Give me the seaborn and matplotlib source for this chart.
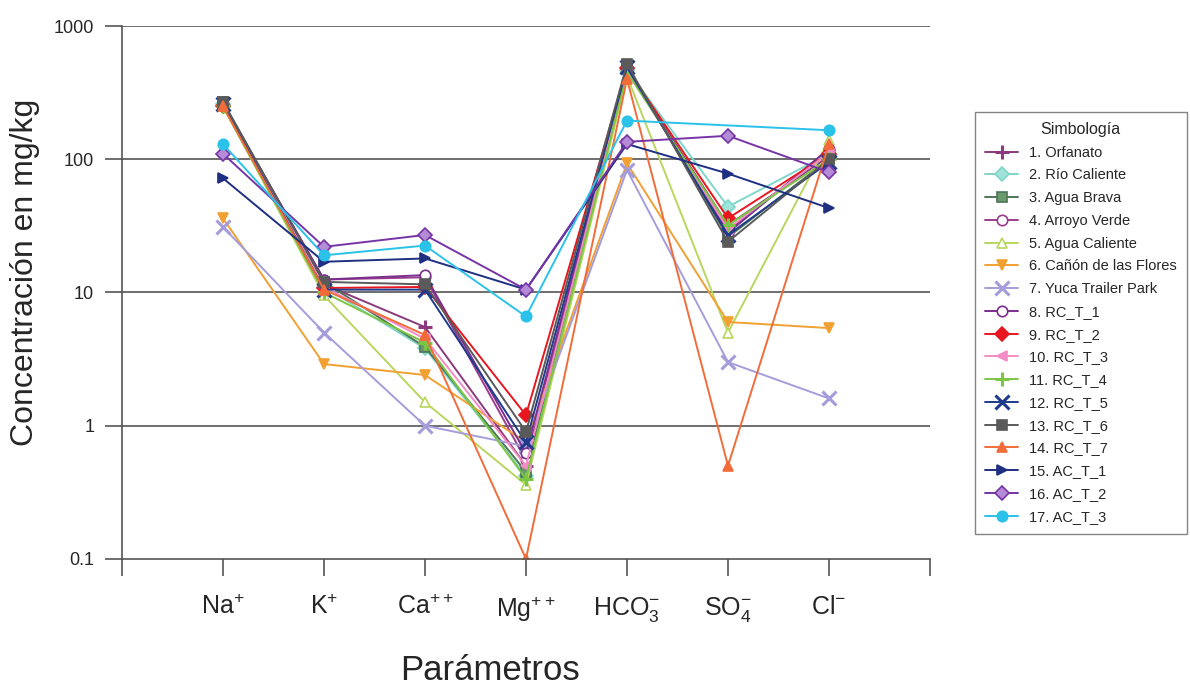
import numpy as np
import pandas as pd
import matplotlib
matplotlib.use("Agg")
import matplotlib.pyplot as plt
from matplotlib import font_manager
import seaborn as sns

# Sampling sites (legend order)
sites = [
    "1. Orfanato", "2. Río Caliente", "3. Agua Brava", "4. Arroyo Verde",
    "5. Agua Caliente", "6. Cañón de las Flores", "7. Yuca Trailer Park",
    "8. RC_T_1", "9. RC_T_2", "10. RC_T_3", "11. RC_T_4", "12. RC_T_5",
    "13. RC_T_6", "14. RC_T_7", "15. AC_T_1", "16. AC_T_2", "17. AC_T_3",
]

# Major ions along the x axis
params = [r"Na$^{+}$", r"K$^{+}$", r"Ca$^{++}$", r"Mg$^{++}$",
          r"HCO$_3^{-}$", r"SO$_4^{-}$", r"Cl$^{-}$"]

# Concentrations (mg/kg), one value per site in the order above
na   = [255, 260, 270, 255, 250, 36, 31, 260, 250, 255, 250, 260, 270, 250, 72, 110, 130]
k    = [11.5, 11, 12, 12.5, 9.5, 2.9, 5, 12.5, 10.8, 11, 10, 10.5, 12, 10.5, 17, 22, 19]
ca   = [5.5, 3.8, 3.9, 13, 1.5, 2.4, 1.0, 13.5, 11, 4.5, 4.2, 10.5, 11.5, 4.8, 18, 27, 22.5]
mg   = [0.5, 0.42, 0.45, 0.55, 0.36, 0.75, 0.7, 0.62, 1.2, 0.5, 0.4, 0.75, 0.9, 0.1, 10.5, 10.5, 6.6]
hco3 = [480, 470, 500, 470, 420, 93, 83, 490, 480, 460, 450, 490, 520, 400, 130, 135, 195]
so4  = [32, 44, 26, 29, 5, 6, 3, 28, 36, 30, 32, 27, 24, 0.5, 78, 150, np.nan]
cl   = [105, 110, 100, 115, 140, 5.4, 1.6, 120, 110, 112, 100, 95, 100, 130, 43, 80, 165]

# Line colour, marker, marker face colour per site
colors = ["#8a3a7c", "#7fd6ca", "#4d7556", "#9b3d8c", "#b9d65e", "#f2a032",
          "#a59ddb", "#7a2f8e", "#e8161e", "#f28cc4", "#7cc646", "#1f3a8c",
          "#5a5a5a", "#f26c3a", "#1f2f82", "#7634a6", "#2bc2ea"]
markers = ["+", "D", "s", "o", "^", "v", "x", "o", "D", "<", "+", "x",
           "s", "^", ">", "D", "o"]
faces = ["#c0508f", "#9fe3da", "#6a9a6e", "white", "white", "#f2a032",
         "#a59ddb", "white", "#e8161e", "#f28cc4", "#7cc646", "#1f3a8c",
         "#5a5a5a", "#f26c3a", "#1f2f82", "#b58ad6", "#2bc2ea"]

df = pd.DataFrame({"site": sites, 0: na, 1: k, 2: ca, 3: mg, 4: hco3, 5: so4, 6: cl})
long = df.melt(id_vars="site", var_name="pos", value_name="conc")
long["pos"] = long["pos"].astype(int)

sns.set_theme(style="white")
names = {f.name for f in font_manager.fontManager.ttflist}
fam = "Liberation Sans Narrow" if "Liberation Sans Narrow" in names else "Liberation Sans"
plt.rcParams["font.family"] = [fam, "DejaVu Sans"]
plt.rcParams["mathtext.fontset"] = "custom"
plt.rcParams["mathtext.rm"] = fam
plt.rcParams["mathtext.it"] = fam

fig = plt.figure(figsize=(11.9, 6.9), dpi=100)
ax = fig.add_axes([0.1025, 0.19, 0.679, 0.7723])

for i, name in enumerate(sites):
    sub = long[(long["site"] == name)].dropna(subset=["conc"]).sort_values("pos")
    mk = markers[i]
    thin = mk in ("+", "x")
    sns.lineplot(data=sub, x="pos", y="conc", ax=ax, color=colors[i],
                 marker=mk, markersize=10 if thin else 7.5,
                 markerfacecolor=faces[i], markeredgecolor=colors[i],
                 markeredgewidth=2.2 if thin else 1.2,
                 linewidth=1.4, label=name, sort=False, estimator=None)

ax.set_yscale("log")
ax.set_ylim(0.1, 1000)
ax.set_xlim(-1, 7)

# Horizontal decade lines
for v in [1, 10, 100, 1000]:
    ax.axhline(v, color="#555555", linewidth=1.2, zorder=0)

ax.set_xticks(range(-1, 8))
ax.set_xticklabels([""] + params + [""], fontsize=18)
ax.set_yticks([0.1, 1, 10, 100, 1000])
ax.set_yticklabels(["0.1", "1", "10", "100", "1000"], fontsize=13)
ax.minorticks_off()
ax.tick_params(axis="both", which="major", direction="out", length=12,
               width=1.2, color="#555555", left=True, bottom=True)
ax.tick_params(axis="y", pad=8)
ax.tick_params(axis="x", pad=14)

for side in ["top", "right"]:
    ax.spines[side].set_visible(False)
for side in ["left", "bottom"]:
    ax.spines[side].set_color("#555555")
    ax.spines[side].set_linewidth(1.2)

ax.set_xlabel("")
ax.set_ylabel("Concentración en mg/kg", fontsize=23)
ax.yaxis.set_label_coords(-0.101, 0.537)
fig.text(0.412, 0.028, "Parámetros", fontsize=25, ha="center", va="center")

leg = ax.legend(title="Simbología", loc="upper left",
                bbox_to_anchor=(0.819, 0.838), bbox_transform=fig.transFigure,
                borderaxespad=0, frameon=True, fancybox=False, fontsize=10.5,
                title_fontsize=11.5, handlelength=2.3, handletextpad=0.7,
                labelspacing=0.6, borderpad=0.7, edgecolor="#666666")
leg.get_frame().set_linewidth(1.0)

fig.savefig("out.png", dpi=100, facecolor="white")
